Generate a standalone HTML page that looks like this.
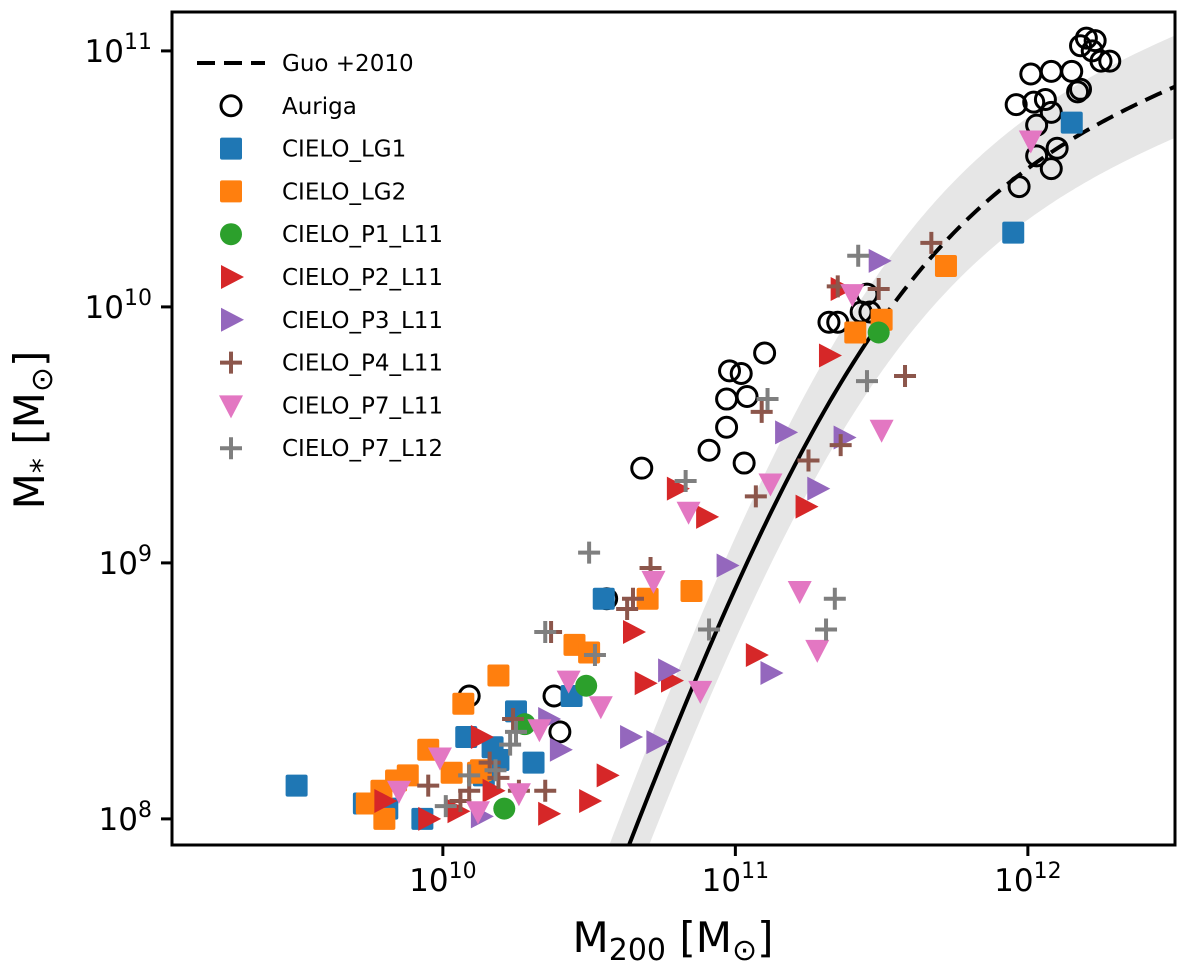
<!DOCTYPE html>
<html><head><meta charset="utf-8"><style>
html,body{margin:0;background:#fff;overflow:hidden;width:1200px;height:971px;}
svg{display:block;font-family:"DejaVu Sans","Liberation Sans",sans-serif;}
</style></head><body>
<svg id="chart" width="1200" height="971"></svg>
<script>
// data (log10 values)
const auriga_x=[12.20,12.18,12.28,12.15,12.18,12.01,12.08,11.96,12.02,12.06,12.08,12.03,12.03,12.08,12.10,11.97,12.22,12.17,12.23,12.25,11.45,11.46,11.43,11.35,11.32,11.10,11.04,10.98,11.02,10.97,10.97,10.91,11.03,10.68,10.56,10.38,10.09,10.40];
const auriga_y=[11.05,11.02,10.96,10.92,10.85,10.91,10.92,10.79,10.80,10.81,10.76,10.71,10.59,10.54,10.62,10.47,11.00,10.84,11.04,10.96,10.05,9.98,9.98,9.94,9.94,9.82,9.65,9.75,9.74,9.64,9.53,9.44,9.39,9.37,8.86,8.48,8.48,8.34];
const lg1_x=[9.50,9.73,9.81,9.93,10.08,10.25,10.17,10.31,10.44,10.55,11.95,12.15,10.14,10.19];
const lg1_y=[8.13,8.06,8.04,8.00,8.32,8.42,8.28,8.22,8.48,8.86,10.29,10.72,8.17,8.23];
const lg2_x=[9.74,9.80,9.79,9.84,9.88,9.95,10.03,10.13,10.07,10.19,10.45,10.50,10.70,10.85,11.41,11.50,11.72,10.12];
const lg2_y=[8.06,8.00,8.11,8.15,8.17,8.27,8.18,8.19,8.45,8.56,8.68,8.65,8.86,8.89,9.90,9.95,10.16,8.18];
const p1_x=[10.21,10.49,11.49,10.28];
const p1_y=[8.04,8.52,9.90,8.37];
const p2_x=[9.80,9.95,10.05,10.13,10.17,10.36,10.50,10.56,10.69,10.65,10.80,10.90,10.78,11.07,11.32,11.24,11.36];
const p2_y=[8.07,8.00,8.03,8.32,8.11,8.02,8.07,8.17,8.53,8.73,9.29,9.18,8.54,8.64,9.81,9.22,10.07];
const p3_x=[10.13,10.40,10.64,10.73,10.77,10.97,11.12,11.17,11.28,11.37,11.49,10.36];
const p3_y=[8.01,8.27,8.32,8.30,8.58,8.99,8.57,9.51,9.29,9.49,10.18,8.39];
const p4_x=[9.95,10.06,10.09,10.19,10.26,10.35,10.24,10.37,10.63,10.65,10.71,11.07,11.09,11.25,11.36,11.35,11.49,11.58,11.67,10.16];
const p4_y=[8.13,8.07,8.11,8.16,8.11,8.11,8.39,8.73,8.82,8.86,8.98,9.26,9.59,9.40,9.46,10.08,10.07,9.73,10.25,8.22];
const p7a_x=[9.85,9.99,10.12,10.26,10.33,10.43,10.54,10.72,10.84,10.88,11.12,11.22,11.28,11.50,11.40,12.01];
const p7a_y=[8.11,8.24,8.03,8.10,8.35,8.54,8.44,8.93,9.20,8.50,9.31,8.89,8.66,9.52,10.05,10.65];
const p7b_x=[10.01,10.09,10.18,10.23,10.25,10.35,10.52,10.50,10.83,10.91,11.11,11.31,11.34,11.42,11.45];
const p7b_y=[8.05,8.17,8.19,8.29,8.34,8.73,8.64,9.04,9.32,8.74,9.64,8.74,8.86,10.20,9.71];
const xTicks=[10,11,12];
const yTicks=[8,9,10,11];

const NS="http://www.w3.org/2000/svg";
const svg=document.getElementById('chart');
const L=172,R=1175,T=12,B=845;
const X0=9.074,X1=12.503,Y0=7.898,Y1=11.152;
const sx=v=>L+(v-X0)/(X1-X0)*(R-L);
const sy=v=>B-(v-Y0)/(Y1-Y0)*(B-T);
function el(tag,attrs,parent){const e=document.createElementNS(NS,tag);for(const k in attrs)e.setAttribute(k,attrs[k]);(parent||svg).appendChild(e);return e;}

const defs=el('defs',{});
const cp=el('clipPath',{id:'clip'},defs);el('rect',{x:L,y:T,width:R-L,height:B-T},cp);
const plot=el('g',{'clip-path':'url(#clip)'});



function guo(lm){const r=Math.pow(10,lm-11.4);return lm+Math.log10(0.129*Math.pow(Math.pow(r,-0.926)+Math.pow(r,0.261),-2.44));}
let up=[],dn=[],solid=[],dash=[];
for(let lm=X0;lm<=X1+0.01;lm+=0.01){const v=guo(lm);up.push(sx(lm)+','+sy(v+0.2));dn.unshift(sx(lm)+','+sy(v-0.2));if(lm<=11.5)solid.push(sx(lm)+','+sy(v));if(lm>=11.49)dash.push(sx(lm)+','+sy(v));}
const band=el('polygon',{points:up.concat(dn).join(' '),fill:'#e6e6e6'},plot);


const gs=el('polyline',{points:solid.join(' '),fill:'none',stroke:'#000','stroke-width':4},plot);


const gd=el('polyline',{points:dash.join(' '),fill:'none',stroke:'#000','stroke-width':4,'stroke-dasharray':'18,9'},plot);



function marker(type,cx,cy,color,g){
  const s=11;
  if(type==='circle')return el('circle',{cx,cy,r:10,fill:'none',stroke:'#000','stroke-width':3},g);
  if(type==='dot')return el('circle',{cx,cy,r:11,fill:color},g);
  if(type==='square')return el('rect',{x:cx-s,y:cy-s,width:2*s,height:2*s,rx:2,fill:color},g);
  if(type==='right')return el('polygon',{points:`${cx-10},${cy-12} ${cx+13},${cy} ${cx-10},${cy+12}`,fill:color},g);
  if(type==='down')return el('polygon',{points:`${cx-12},${cy-10} ${cx+12},${cy-10} ${cx},${cy+13}`,fill:color},g);
  if(type==='plus')return el('path',{d:`M${cx-11},${cy}H${cx+11}M${cx},${cy-11}V${cy+11}`,stroke:color,'stroke-width':4},g);
}
const series=[
 ['auriga',auriga_x,auriga_y,'circle','#000'],
 ['cielo-lg1',lg1_x,lg1_y,'square','#1f77b4'],
 ['cielo-lg2',lg2_x,lg2_y,'square','#ff7f0e'],
 ['cielo-p1-l11',p1_x,p1_y,'dot','#2ca02c'],
 ['cielo-p2-l11',p2_x,p2_y,'right','#d62728'],
 ['cielo-p3-l11',p3_x,p3_y,'right','#9467bd'],
 ['cielo-p4-l11',p4_x,p4_y,'plus','#8c564b'],
 ['cielo-p7-l11',p7a_x,p7a_y,'down','#e377c2'],
 ['cielo-p7-l12',p7b_x,p7b_y,'plus','#7f7f7f']];
series.forEach(s=>{
  const g=el('g',{},plot);
  
  
  s[1].forEach((v,i)=>{const m=marker(s[3],sx(v),sy(s[2][i]),s[4],g);
    
    });
});

const fr=el('rect',{x:L,y:T,width:R-L,height:B-T,fill:'none',stroke:'#000','stroke-width':3});



const ax=el('g',{});


xTicks.forEach(t=>{const x=sx(t);el('line',{x1:x,x2:x,y1:B,y2:B+11,stroke:'#000','stroke-width':3},ax);
  const tx=el('text',{x:x,y:B+46,'text-anchor':'middle','font-size':31},ax);tx.innerHTML='10<tspan dy="-13" font-size="22">'+t+'</tspan>';
  
  });
yTicks.forEach(t=>{const y=sy(t);el('line',{x1:L,x2:L-11,y1:y,y2:y,stroke:'#000','stroke-width':3},ax);
  const tx=el('text',{x:L-20,y:y+11,'text-anchor':'end','font-size':31},ax);tx.innerHTML='10<tspan dy="-13" font-size="22">'+t+'</tspan>';
  
  });

const xt=el('text',{x:673,y:952,'text-anchor':'middle','font-size':42});
xt.innerHTML='M<tspan dy="8" font-size="30">200</tspan><tspan dy="-8"> [M</tspan><tspan dy="8" font-size="30">⊙</tspan><tspan dy="-8">]</tspan>';


const yt=el('text',{transform:'translate(44,430) rotate(-90)','text-anchor':'middle','font-size':42});
yt.innerHTML='M<tspan dy="8" font-size="30">*</tspan><tspan dy="-8"> [M</tspan><tspan dy="8" font-size="30">⊙</tspan><tspan dy="-8">]</tspan>';



const labels=['Guo +2010','Auriga','CIELO_LG1','CIELO_LG2','CIELO_P1_L11','CIELO_P2_L11','CIELO_P3_L11','CIELO_P4_L11','CIELO_P7_L11','CIELO_P7_L12'];
const lg=el('g',{});


labels.forEach((lab,i)=>{
  const y=63+i*42.8;
  if(i===0){el('line',{x1:197,x2:265,y1:y,y2:y,stroke:'#000','stroke-width':4,'stroke-dasharray':'18,9'},lg);}
  else{const s=series[i-1];const m=marker(s[3],231,y,s[4],lg);
    
    }
  const t=el('text',{x:282,y:y+8,'font-size':23},lg);t.textContent=lab;
  
  
});
</script>
</body></html>
